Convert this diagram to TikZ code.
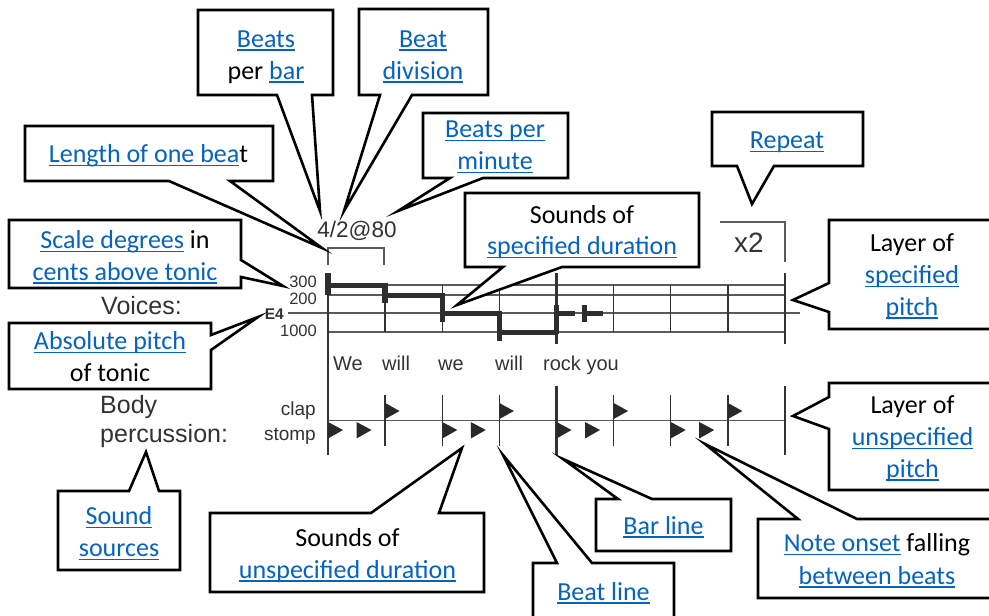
\documentclass[tikz,border=0pt]{standalone}
\usepackage{fontspec}
\setmainfont{Carlito}
\newfontfamily\arial{Liberation Sans}
\definecolor{linkblue}{HTML}{0563C1}
\definecolor{ink}{HTML}{333333}
\definecolor{staffgray}{HTML}{5A5A5A}
\newcommand\lnk[1]{{\color{linkblue}\setbox0\hbox{#1}\rlap{\rule[-3.6pt]{\wd0}{1.5pt}}\box0}}
% callout outlines: x1 y1 x2 y2 b1 b2 tipx tipy
\newcommand\cobot[8]{\draw[callout] (#1,#2) -- (#3,#2) -- (#3,#4) -- (#6,#4) -- (#7,#8) -- (#5,#4) -- (#1,#4) -- cycle;}
\newcommand\cotop[8]{\draw[callout] (#1,#2) -- (#5,#2) -- (#7,#8) -- (#6,#2) -- (#3,#2) -- (#3,#4) -- (#1,#4) -- cycle;}
\newcommand\coright[8]{\draw[callout] (#1,#2) -- (#3,#2) -- (#3,#5) -- (#7,#8) -- (#3,#6) -- (#3,#4) -- (#1,#4) -- cycle;}
\newcommand\coleft[8]{\draw[callout] (#1,#2) -- (#3,#2) -- (#3,#4) -- (#1,#4) -- (#1,#6) -- (#7,#8) -- (#1,#5) -- cycle;}
\tikzset{
  callout/.style={draw=black, fill=white, line width=2.6pt, line join=miter, miter limit=20},
  ct/.style={font=\fontsize{26}{32}\selectfont, inner sep=0pt, anchor=base},
  dtext/.style={font=\arial, text=ink, inner sep=0pt},
  thinline/.style={draw=staffgray, line width=1.3pt},
  beatline/.style={draw=ink, line width=1.5pt},
  barline/.style={draw=ink, line width=2.4pt},
  voice/.style={draw=ink!90!black, line width=5pt},
  onset/.style={draw=ink!90!black, line width=5.5pt},
  flag/.style={fill=ink!80!black, draw=none},
}
\begin{document}
\begin{tikzpicture}[x=1pt, y=-1pt]
\useasboundingbox (0,0) rectangle (989,616);
\clip (0,0) rectangle (989,616);
\fill[white] (0,0) rectangle (989,616);

% ---------- staff: voices ----------
\foreach \yy in {285,295,332} \draw[thinline] (328,\yy) -- (785,\yy);
\draw[thinline] (288,313) -- (800,313);
\foreach \xx in {385.1,442.3,499.4,613.6,670.7,727.9} \draw[beatline] (\xx,285) -- (\xx,332);
\draw[barline] (556.5,273) -- (556.5,344);
\draw[barline] (785,273) -- (785,344);
\draw[barline] (328,273) -- (328,455);

% voice melody
\draw[voice] (328,285.5) -- (385.1,285.5);
\draw[voice] (385.1,295) -- (442.3,295);
\draw[voice] (442.3,313) -- (499.4,313);
\draw[voice] (499.4,332) -- (556.5,332);
\draw[voice] (556.5,313) -- (575,313);
\draw[voice] (584.5,313) -- (603,313);
\draw[onset] (328,273) -- (328,295);
\draw[onset] (385.1,283) -- (385.1,303);
\draw[onset] (442.3,293) -- (442.3,322);
\draw[onset] (499.4,311) -- (499.4,341);
\draw[onset] (556.5,305) -- (556.5,334);
\draw[onset] (584.5,305) -- (584.5,322);

% ---------- staff: percussion ----------
\draw[thinline] (328,420.5) -- (785,420.5);
\foreach \xx in {385.1,442.3,499.4,613.6,670.7,727.9} \draw[beatline] (\xx,395) -- (\xx,446);
\draw[barline] (556.5,386) -- (556.5,455);
\draw[barline] (785,386) -- (785,455);
\foreach \xx in {385.1,499.4,613.6,727.9} \fill[flag] (\xx,403) -- (\xx+14.5,411) -- (\xx,419) -- cycle;
\foreach \xx in {328,356.5,442.3,470.8,556.5,585,670.7,699.2} \fill[flag] (\xx,422) -- (\xx+15,430) -- (\xx,438.5) -- cycle;

% brackets
\draw[thinline] (328,265) -- (328,248) -- (384,248) -- (384,265);
\draw[thinline] (720,222) -- (785,222) -- (785,262);

% ---------- diagram texts ----------
\node[dtext, font=\arial\fontsize{22.5}{26}\selectfont, anchor=base] (tempo) at (357,237) {4/2@80};
\node[dtext, font=\arial\fontsize{16.5}{19}\selectfont, anchor=base east] (d300) at (317,287.5) {300};
\node[dtext, font=\arial\fontsize{16.5}{19}\selectfont, anchor=base east] (d200) at (317,304.5) {200};
\node[dtext, font=\arial\fontsize{16.5}{19}\selectfont, anchor=base east] (d1000) at (317,336.5) {1000};
\node[dtext, font=\arial\bfseries\fontsize{15.5}{19}\selectfont, anchor=base east] (e4) at (284,319.5) {E4};
\node[dtext, font=\arial\fontsize{25}{29}\selectfont, anchor=base west] (voices) at (101,314) {Voices:};
\node[dtext, font=\arial\fontsize{25}{29}\selectfont, anchor=base west] (body) at (100,413) {Body};
\node[dtext, font=\arial\fontsize{25}{29}\selectfont, anchor=base west] (perc) at (100,442.5) {percussion:};
\node[dtext, font=\arial\fontsize{19}{22}\selectfont, anchor=base east] (clap) at (316,415) {clap};
\node[dtext, font=\arial\fontsize{19}{22}\selectfont, anchor=base east] (stomp) at (316,440.5) {stomp};
\node[dtext, font=\arial\fontsize{20}{24}\selectfont, anchor=base west] (ly1) at (333,370.5) {We};
\node[dtext, font=\arial\fontsize{20}{24}\selectfont, anchor=base west] (ly2) at (382,370.5) {will};
\node[dtext, font=\arial\fontsize{20}{24}\selectfont, anchor=base west] (ly3) at (438,370.5) {we};
\node[dtext, font=\arial\fontsize{20}{24}\selectfont, anchor=base west] (ly4) at (495,370.5) {will};
\node[dtext, font=\arial\fontsize{20}{24}\selectfont, anchor=base west] (ly5) at (543,370.5) {rock you};
\node[dtext, font=\arial\fontsize{28}{32}\selectfont, anchor=base west] (rep) at (734,252.5) {x2};

% ---------- callouts ----------
\cobot{198}{10}{333}{95}{277}{312}{320}{211}
\node[ct] (c1a) at (266,47) {\lnk{Beats}};
\node[ct] (c1b) at (266,79) {per \lnk{bar}};

\cobot{359}{9}{488}{95}{380}{412}{344}{211}
\node[ct] (c2a) at (423,47) {\lnk{Beat}};
\node[ct] (c2b) at (423,79) {\lnk{division}};

\cobot{25}{126}{273}{181}{169}{230}{322}{248}
\node[ct] (c3) at (148.5,162.5) {\lnk{Length of one bea}t};

\cobot{423}{113}{568}{178}{450}{483}{398}{211}
\node[ct] (c4a) at (495,137.5) {\lnk{Beats per}};
\node[ct] (c4b) at (495,169.5) {\lnk{minute}};

\coright{9}{220}{241}{288}{260}{277}{283}{286}
\node[ct] (c5a) at (125,248.5) {\lnk{Scale degrees} in};
\node[ct] (c5b) at (125,280) {\lnk{cents above tonic}};

\coright{9}{323}{211}{389}{335}{350}{258}{317}
\node[ct] (c6a) at (110,349.5) {\lnk{Absolute pitch}};
\node[ct] (c6b) at (110,381) {of tonic};

\cotop{58}{491}{180}{570}{129}{159}{146}{452}
\node[ct] (c7a) at (119,524.5) {\lnk{Sound}};
\node[ct] (c7b) at (119,556.5) {\lnk{sources}};

\cotop{210}{513}{484}{592}{371}{439}{462}{448}
\node[ct] (c8a) at (347.5,546) {Sounds of};
\node[ct] (c8b) at (347.5,578) {\lnk{unspecified duration}};

\cotop{533}{563}{674}{640}{557}{592}{503}{455}
\node[ct] (c9) at (603.5,600) {\lnk{Beat line}};

\cotop{596}{499}{731}{551}{618}{652}{563}{459}
\node[ct] (c10) at (663.5,534) {\lnk{Bar line}};

\cotop{758}{519}{1010}{598}{798}{857}{705}{444}
\node[ct] (c11a) at (877,551.5) {\lnk{Note onset} falling};
\node[ct] (c11b) at (877,584) {\lnk{between beats}};

\coleft{829}{383}{1010}{490}{397}{429}{793}{416}
\node[ct] (c12a) at (912.5,413.5) {Layer of};
\node[ct] (c12b) at (912.5,445.5) {\lnk{unspecified}};
\node[ct] (c12c) at (912.5,477) {\lnk{pitch}};

\coleft{829}{220}{1010}{329}{283}{312}{793}{300}
\node[ct] (c13a) at (912,251.5) {Layer of};
\node[ct] (c13b) at (912,283.5) {\lnk{specified}};
\node[ct] (c13c) at (912,315) {\lnk{pitch}};

\cobot{465}{193}{699}{267}{503}{562}{457}{305}
\node[ct] (c14a) at (582,223) {Sounds of};
\node[ct] (c14b) at (582,254.5) {\lnk{specified duration}};

\cobot{712}{112}{863}{166}{737}{774}{752}{204}
\node[ct] (c15) at (787,148.5) {\lnk{Repeat}};
\end{tikzpicture}
\end{document}
